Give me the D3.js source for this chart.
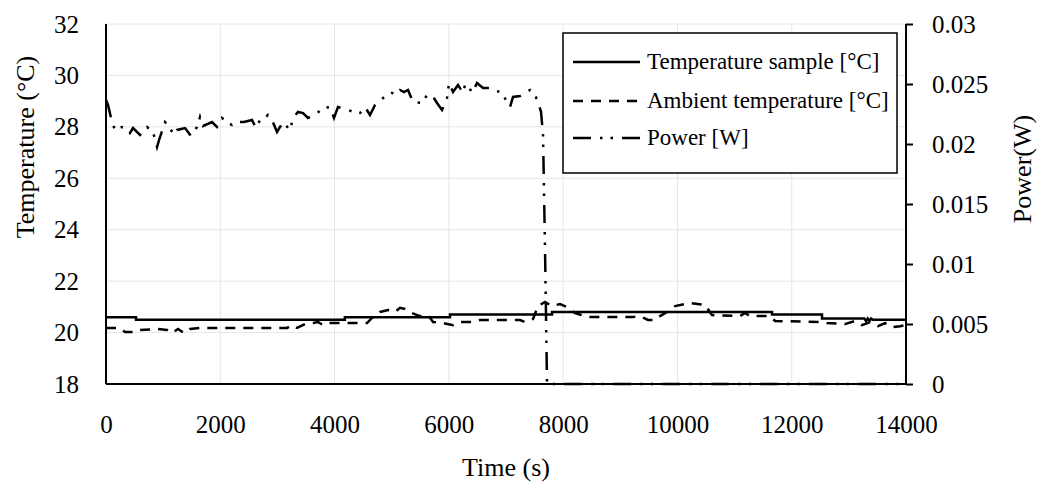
<!DOCTYPE html>
<html>
<head>
<meta charset="utf-8">
<title>Temperature and power</title>
<script src="https://d3js.org/d3.v7.min.js"></script>
<style>
  body { margin: 0; background: #fff; }
  text { font-family: "Liberation Serif", "Times New Roman", serif; fill: #000; }
</style>
</head>
<body>
<script>
// ---- data ----
var timeTicks = [0, 2000, 4000, 6000, 8000, 10000, 12000, 14000];
var timeTickLabels = ["0", "2000", "4000", "6000", "8000", "10000", "12000", "14000"];
var tempTicks = [18, 20, 22, 24, 26, 28, 30, 32];
var powerTicks = [0, 0.005, 0.01, 0.015, 0.02, 0.025, 0.03];
var powerTickLabels = ["0", "0.005", "0.01", "0.015", "0.02", "0.025", "0.03"];

var seriesNames = ["Temperature sample [°C]", "Ambient temperature [°C]", "Power [W]"];

// sample temperature (stepped)
var sampleTime = [0, 525, 525, 4180, 4180, 6020, 6020, 7805, 7805, 11655, 11655, 12530, 12530, 13270, 13300, 13330, 13360, 13390, 13420, 14000];
var sampleTemp = [20.6, 20.6, 20.5, 20.5, 20.6, 20.6, 20.7, 20.7, 20.8, 20.8, 20.7, 20.7, 20.55, 20.55, 20.45, 20.55, 20.45, 20.55, 20.5, 20.5];

// ambient temperature
var ambientTime = [0, 245, 333, 508, 595, 910, 1068, 1155, 1260, 1365, 1470, 1645, 3168, 3255, 3343,
  3483, 3623, 3710, 3798, 3920, 4568, 4655, 4795, 4935, 5058, 5145, 5233, 5355, 5495, 5635, 5723,
  5898, 6073, 6195, 6370, 6545, 7245, 7333, 7473, 7560, 7683, 7805, 7945, 8068, 8208, 8418, 9223,
  9345, 9485, 9608, 9695, 9818, 9958, 10220, 10483, 10605, 11095, 11183, 11270, 11620, 11708, 12495,
  12618, 12933, 13108, 13230, 13370, 13510, 13633, 13755, 13895, 14000];
var ambientTemp = [20.18, 20.18, 20.02, 20.02, 20.10, 20.14, 20.10, 19.98, 20.14, 19.98, 20.14, 20.18, 20.18, 20.29, 20.18,
  20.33, 20.37, 20.41, 20.29, 20.37, 20.37, 20.57, 20.80, 20.88, 20.80, 20.96, 20.92, 20.76, 20.64, 20.68, 20.41,
  20.37, 20.29, 20.41, 20.41, 20.49, 20.49, 20.41, 20.53, 21.03, 21.19, 21.03, 21.11, 20.99, 20.76, 20.61, 20.61,
  20.64, 20.49, 20.49, 20.64, 20.80, 21.03, 21.15, 21.07, 20.68, 20.64, 20.76, 20.64, 20.64, 20.45, 20.41,
  20.37, 20.33, 20.45, 20.29, 20.41, 20.25, 20.37, 20.21, 20.25, 20.29];

// power
var powerTime = [0, 35, 105, 158, 280, 368, 420, 473, 595, 718, 823, 893, 928, 1033, 1085, 1190, 1243,
  1383, 1488, 1593, 1645, 1698, 1855, 1943, 2030, 2118, 2205, 2258, 2415, 2555, 2625, 2695, 2783, 2835,
  2905, 2993, 3098, 3220, 3273, 3360, 3448, 3535, 3658, 3798, 3920, 3990, 4060, 4235, 4393, 4445, 4533,
  4620, 4708, 4848, 5005, 5075, 5145, 5215, 5285, 5373, 5530, 5618, 5705, 5793, 5880, 5968, 6003, 6073,
  6160, 6248, 6283, 6335, 6405, 6493, 6598, 6755, 6843, 6930, 7018, 7070, 7123, 7245, 7333, 7420, 7508,
  7560, 7613, 7648, 7683, 7718, 14000];
var powerW = [0.02367, 0.02325, 0.02183, 0.02117, 0.02142, 0.02133, 0.02092, 0.02133, 0.02075, 0.02142, 0.0210, 0.01975, 0.02033, 0.02183, 0.02158, 0.02075, 0.02117,
  0.02133, 0.02067, 0.02142, 0.02225, 0.0215, 0.02183, 0.02142, 0.02217, 0.02183, 0.02158, 0.02183, 0.02183, 0.0220, 0.02133, 0.0220, 0.02217, 0.02242,
  0.0220, 0.0210, 0.02183, 0.02117, 0.02217, 0.02267, 0.02258, 0.02217, 0.02242, 0.0230, 0.02308, 0.02217, 0.02308, 0.02283, 0.02258, 0.02258, 0.02308,
  0.02242, 0.02325, 0.02383, 0.02425, 0.02408, 0.0245, 0.02433, 0.0245, 0.0235, 0.02342, 0.02408, 0.02408, 0.02342, 0.02283, 0.02383, 0.02508, 0.02433,
  0.02492, 0.02425, 0.02492, 0.02492, 0.02425, 0.02508, 0.02467, 0.02467, 0.02442, 0.02425, 0.0235, 0.02308, 0.02392, 0.024, 0.02425, 0.0245, 0.02408,
  0.0235, 0.02267, 0.02075, 0.01117, 0, 0];

// ---- layout ----
var W = 1042, H = 483;
var margin = {left: 106, right: 136, top: 24, bottom: 99};
var pw = W - margin.left - margin.right, ph = H - margin.top - margin.bottom;

var svg = d3.select("body").append("svg")
  .attr("width", W).attr("height", H);

var x = d3.scaleLinear().domain([0, 14000]).range([margin.left, margin.left + pw]);
var yT = d3.scaleLinear().domain([18, 32]).range([margin.top + ph, margin.top]);
var yP = d3.scaleLinear().domain([0, 0.03]).range([margin.top + ph, margin.top]);

// gridlines
svg.append("g").selectAll("line").data(tempTicks.slice(1)).enter().append("line")
  .attr("x1", margin.left).attr("x2", margin.left + pw)
  .attr("y1", function(d) { return yT(d); }).attr("y2", function(d) { return yT(d); })
  .attr("stroke", "#e6e6e6").attr("stroke-width", 1);
svg.append("g").selectAll("line").data(timeTicks.slice(1, -1)).enter().append("line")
  .attr("x1", function(d) { return x(d); }).attr("x2", function(d) { return x(d); })
  .attr("y1", margin.top).attr("y2", margin.top + ph)
  .attr("stroke", "#e6e6e6").attr("stroke-width", 1);

function pairs(xs, ys) { return xs.map(function(t, i) { return [t, ys[i]]; }); }

var lineT = d3.line().x(function(d) { return x(d[0]); }).y(function(d) { return yT(d[1]); });
var lineP = d3.line().x(function(d) { return x(d[0]); }).y(function(d) { return yP(d[1]); });

var dashAmb = "10,8";
var dashPow = "18,9,2.5,8,2.5,9";

svg.append("path").datum(pairs(powerTime, powerW)).attr("d", lineP)
  .attr("fill", "none").attr("stroke", "#000").attr("stroke-width", 2.5)
  .attr("stroke-dasharray", dashPow);
svg.append("path").datum(pairs(ambientTime, ambientTemp)).attr("d", lineT)
  .attr("fill", "none").attr("stroke", "#000").attr("stroke-width", 2.5)
  .attr("stroke-dasharray", dashAmb);
svg.append("path").datum(pairs(sampleTime, sampleTemp)).attr("d", lineT)
  .attr("fill", "none").attr("stroke", "#000").attr("stroke-width", 2.5);

// axes
var xAxis = svg.append("g").attr("transform", "translate(0," + (margin.top + ph) + ")")
  .call(d3.axisBottom(x).tickValues(timeTicks).tickSize(0).tickPadding(31)
    .tickFormat(function(d, i) { return timeTickLabels[i]; }));
var yAxisL = svg.append("g").attr("transform", "translate(" + margin.left + ",0)")
  .call(d3.axisLeft(yT).tickValues(tempTicks).tickSize(0).tickPadding(27));
var yAxisR = svg.append("g").attr("transform", "translate(" + (margin.left + pw) + ",0)")
  .call(d3.axisRight(yP).tickValues(powerTicks).tickSize(7).tickPadding(19)
    .tickFormat(function(d, i) { return powerTickLabels[i]; }));

[xAxis, yAxisL, yAxisR].forEach(function(g) {
  g.select(".domain").attr("stroke", "#000").attr("stroke-width", 2);
  g.selectAll(".tick line").attr("stroke", "#000").attr("stroke-width", 2);
  g.selectAll(".tick text").attr("font-size", 25)
    .attr("font-family", "'Liberation Serif', serif").attr("fill", "#000");
});
xAxis.select(".domain").attr("d", "M" + margin.left + ",0H" + (margin.left + pw));
yAxisL.select(".domain").attr("d", "M0," + (margin.top + ph) + "V" + margin.top);
yAxisR.select(".domain").attr("d", "M0," + (margin.top + ph) + "V" + margin.top);

// axis titles
svg.append("text").attr("x", margin.left + pw / 2).attr("y", 476)
  .attr("text-anchor", "middle").attr("font-size", 26).text("Time (s)");
svg.append("text").attr("transform", "translate(34,147) rotate(-90)")
  .attr("text-anchor", "middle").attr("font-size", 26).text("Temperature (°C)");
svg.append("text").attr("transform", "translate(1031,169) rotate(-90)")
  .attr("text-anchor", "middle").attr("font-size", 26).text("Power(W)");

// legend
var leg = svg.append("g");
leg.append("rect").attr("x", 563).attr("y", 33).attr("width", 334).attr("height", 140)
  .attr("fill", "#fff").attr("stroke", "#000").attr("stroke-width", 1.5);
var legDash = [null, dashAmb, dashPow];
var legY = [62, 101, 138];
seriesNames.forEach(function(name, i) {
  leg.append("line").attr("x1", 573).attr("x2", 640)
    .attr("y1", legY[i]).attr("y2", legY[i])
    .attr("stroke", "#000").attr("stroke-width", 2.5)
    .attr("stroke-dasharray", legDash[i]);
  leg.append("text").attr("x", 647).attr("y", legY[i] + 7)
    .attr("font-size", 23).text(name);
});
</script>
</body>
</html>
